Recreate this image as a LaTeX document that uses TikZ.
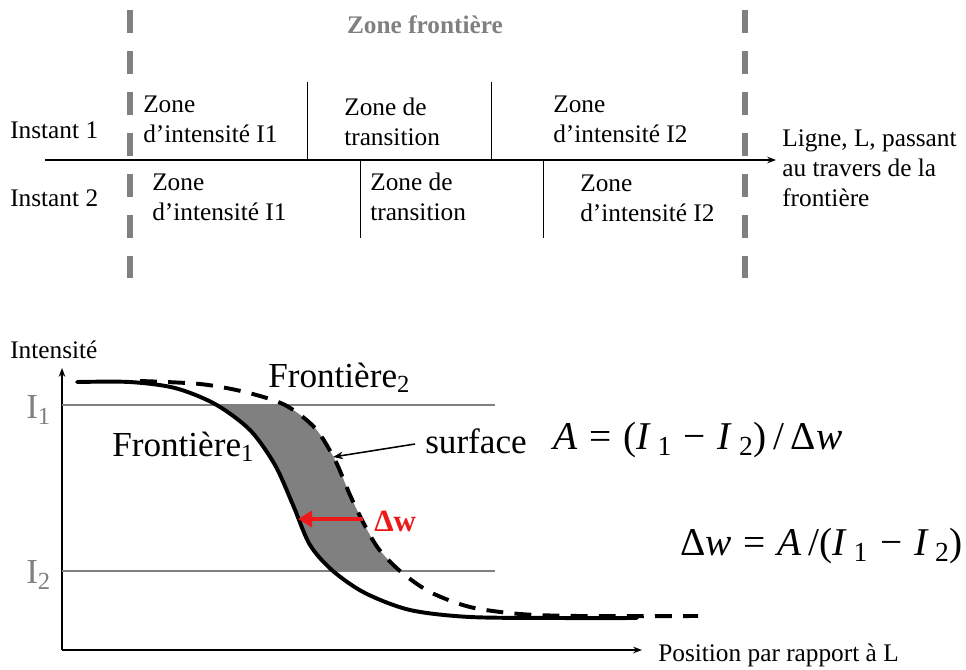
\documentclass[tikz,border=0pt]{standalone}
\usepackage{fontspec}
\setmainfont{Liberation Serif}
\usetikzlibrary{arrows.meta,calc,positioning}
\definecolor{grisligne}{rgb}{0.5,0.5,0.5}
\definecolor{grisfond}{rgb}{0.5,0.5,0.5}
\definecolor{rougedelta}{rgb}{0.93,0.1,0.1}
\newcommand{\ecart}{\hspace{0.3em}}
\tikzset{
  zone/.style={
    align=left,
    anchor=west,
    inner sep=0pt,
    font=\fontsize{18}{21.5}\selectfont
  },
  grand/.style={
    anchor=west,
    inner sep=0pt,
    font=\fontsize{25}{29}\selectfont
  },
  formule/.style={
    anchor=west,
    inner sep=0pt,
    font=\fontsize{28}{33}\selectfont
  },
  limite/.style={
    grisligne,
    line width=4.2pt,
    dash pattern=on 16.3pt off 12.8pt
  },
  separation/.style={
    black,
    line width=0.7pt
  },
  niveau/.style={
    grisligne,
    line width=1.4pt
  },
  arrow/.style={
    -{Stealth[length=2.2mm]},
    line width=1.1pt
  }
}
\begin{document}
\begin{tikzpicture}[x=0.025cm,y=-0.025cm]
\useasboundingbox (0,0) rectangle (966,670);
% partie haute : les deux instants
\coordinate (f1h) at (130,10);
\coordinate (f1b) at (130,280);
\coordinate (f2h) at (745,10);
\coordinate (f2b) at (745,280);
\draw[limite] (f1h) -- (f1b);
\draw[limite] (f2h) -- (f2b);
\node[font=\fontsize{18}{21.5}\selectfont\bfseries, text=grisligne, inner sep=0pt] (zf) at (425,25) {Zone frontière};

\coordinate (Ldeb) at (45,160);
\coordinate (Lfin) at (776,160);
\draw[arrow, line width=0.9pt] (Ldeb) -- (Lfin);
\node[zone] (ligne) at (782,168) {Ligne, L, passant\\au travers de la\\frontière};

\node[zone] (inst1) at (10,130) {Instant 1};
\node[zone] (inst2) at (10,198) {Instant 2};

\coordinate (s1h) at (307,82);  \coordinate (s1b) at (307,160);
\coordinate (s2h) at (491,82);  \coordinate (s2b) at (491,160);
\coordinate (s3h) at (360,160); \coordinate (s3b) at (360,238);
\coordinate (s4h) at (543,160); \coordinate (s4b) at (543,238);
\draw[separation] (s1h) -- (s1b);
\draw[separation] (s2h) -- (s2b);
\draw[separation] (s3h) -- (s3b);
\draw[separation] (s4h) -- (s4b);

\node[zone] (a1) at (143,119) {Zone\\d’intensité I1};
\node[zone] (b1) at (344,122) {Zone de\\transition};
\node[zone] (c1) at (553,119) {Zone\\d’intensité I2};
\node[zone] (a2) at (152,197) {Zone\\d’intensité I1};
\node[zone] (b2) at (370,197) {Zone de\\transition};
\node[zone] (c2) at (580,198) {Zone\\d’intensité I2};

% partie basse : profils d'intensite
\begin{scope}
\clip (62,405) rectangle (700,571);
\fill[grisfond] plot[smooth] coordinates {(140,381) (200,384) (245,392) (285,405) (315,428) (335,460) (350,495) (363,522) (378,548) (400,571) (430,592)}
  -- plot[smooth] coordinates {(365,593) (333,571) (310,545) (293,505) (275,465) (250,430) (215,404) (175,388) (130,382)} -- cycle;
\end{scope}

\coordinate (O) at (62,650);
\coordinate (yh) at (62,368);
\coordinate (xd) at (642,650);
\draw[arrow] (O) -- (yh);
\draw[arrow] (O) -- (xd);
\node[zone] (intens) at (10,350) {Intensité};
\node[zone] (pos) at (658,655) {Position par rapport à L};

\coordinate (i1g) at (62,405);  \coordinate (i1d) at (495,405);
\coordinate (i2g) at (62,571);  \coordinate (i2d) at (495,571);
\draw[niveau] (i1g) -- (i1d);
\draw[niveau] (i2g) -- (i2d);
\node[grand, text=grisligne] (I1) at (26,410) {I\textsubscript{1}};
\node[grand, text=grisligne] (I2) at (26,575) {I\textsubscript{2}};

\draw[line width=2.8pt, line cap=round] plot[smooth] coordinates {(77,382) (130,382) (175,388) (215,404) (250,430) (275,465) (293,505) (310,545) (333,571) (365,593) (410,610) (470,617) (560,618) (637,618)};
\draw[line width=2.8pt, dash pattern=on 12pt off 8pt] plot[smooth] coordinates {(140,381) (200,384) (245,392) (285,405) (315,428) (335,460) (350,495) (363,522) (378,548) (400,571) (430,592) (470,607) (520,614) (580,616) (698,616)};

\node[grand] (front2) at (268,378) {Frontière\textsubscript{2}};
\node[grand] (front1) at (112,447) {Frontière\textsubscript{1}};
\node[grand] (surf) at (425,441) {surface};
\coordinate (surfpt) at (333,457);
\draw[-{Stealth[length=2.5mm]}, line width=1.1pt] (surf.west) ++(-10,3) coordinate (surfdeb) -- (surfpt);

\coordinate (dwdeb) at (363,519);
\coordinate (dwfin) at (298,519);
\draw[-{Triangle[length=3.5mm,width=4mm]}, rougedelta, line width=2.6pt] (dwdeb) -- (dwfin);
\node[anchor=west, inner sep=0pt, text=rougedelta, font=\fontsize{22}{26}\selectfont\bfseries] (dw) at (374,521) {Δw};

\node[formule] (eqA) at (553,440) {\textit{A}\ecart=\ecart(\textit{I}\,\textsubscript{1}\ecart−\ecart\textit{I}\,\textsubscript{2})\,/\,Δ\textit{w}};
\node[formule] (eqW) at (680,546) {Δ\textit{w}\ecart=\ecart\textit{A}\,/(\textit{I}\,\textsubscript{1}\ecart−\ecart\textit{I}\,\textsubscript{2})};
\end{tikzpicture}
\end{document}
